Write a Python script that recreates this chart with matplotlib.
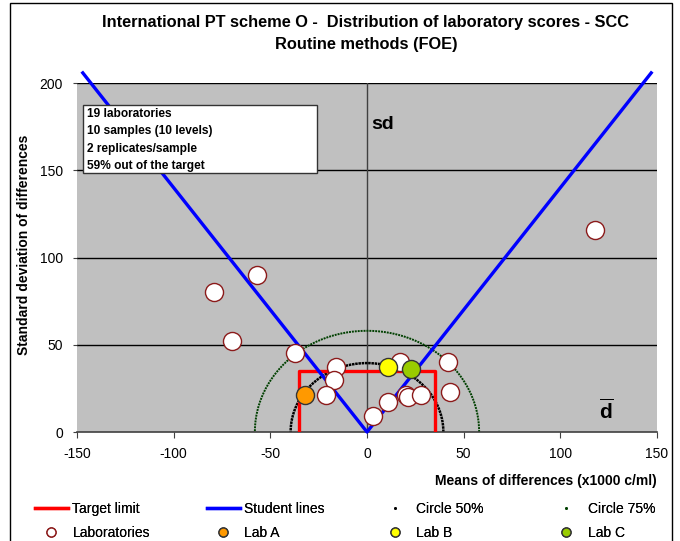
import numpy as np
import matplotlib
matplotlib.use("Agg")
import matplotlib.pyplot as plt
from matplotlib.lines import Line2D
from matplotlib.patches import Rectangle

plt.rcParams['font.family'] = ['Liberation Sans', 'DejaVu Sans']
plt.rcParams['axes.unicode_minus'] = False
plt.rcParams['mathtext.fontset'] = 'custom'
plt.rcParams['mathtext.bf'] = 'Liberation Sans:bold'
plt.rcParams['mathtext.rm'] = 'Liberation Sans'

# ---- data ----
lab_x = [118, -79, -57, -70, -37, -16, -17, -21, 3, 11, 17, 20, 21, 28, 42, 43]
lab_y = [116, 80, 90, 52, 45, 37, 30, 21, 9, 17, 40, 21, 20, 21, 40, 23]
labA = (-32, 21)
labB = (11, 37)
labC = (23, 36)
target_limit = 35
student_slope = 1.4
student_xmax = 147
circle50_r = 39.5
circle75_r = 58
xticks = [-150, -100, -50, 0, 50, 100, 150]
yticks = [0, 50, 100, 150, 200]
info_lines = ["19 laboratories", "10 samples (10 levels)", "2 replicates/sample", "59% out of the target"]

fig = plt.figure(figsize=(6.8, 5.41), dpi=100)
ax = fig.add_axes([77/680, 1 - 432/541, 580/680, 349/541])
ax.set_facecolor('#C0C0C0')
ax.set_xlim(-150, 150)
ax.set_ylim(0, 200)

# gridlines
for yv in yticks[1:]:
    ax.axhline(yv, color='black', lw=1.0, zorder=1)
ax.axvline(0, color='#404040', lw=1.0, zorder=1)

# circles
t = np.linspace(0, np.pi, 200)
ax.plot(circle50_r*np.cos(t), circle50_r*np.sin(t), color='black', lw=1.8, ls=(0, (1, 0.3)), zorder=2)
ax.plot(circle75_r*np.cos(t), circle75_r*np.sin(t), color='#004000', lw=1.4, ls=(0, (1, 0.5)), zorder=2)

# target rectangle
ax.plot([-target_limit, -target_limit, target_limit, target_limit],
        [0, target_limit, target_limit, 0], color='red', lw=2.4, zorder=3)

# student lines
ax.plot([-student_xmax, 0, student_xmax],
        [student_slope*student_xmax, 0, student_slope*student_xmax],
        color='blue', lw=2.4, zorder=3, clip_on=False)

# points
ax.plot(lab_x, lab_y, 'o', ms=13, mfc='white', mec='#8B1A1A', mew=1.0, zorder=4)
ax.plot([labA[0]], [labA[1]], 'o', ms=13, mfc='#FF9900', mec='#333333', mew=1.0, zorder=5)
ax.plot([labB[0]], [labB[1]], 'o', ms=13, mfc='#FFFF00', mec='#333333', mew=1.0, zorder=5)
ax.plot([labC[0]], [labC[1]], 'o', ms=13, mfc='#99CC00', mec='#333333', mew=1.0, zorder=5)

# axes styling
for s in ['top', 'right', 'left']:
    ax.spines[s].set_visible(False)
ax.spines['bottom'].set_color('#404040')
ax.spines['bottom'].set_linewidth(1.2)
ax.set_xticks(xticks)
ax.set_yticks(yticks)
ax.tick_params(axis='x', direction='out', length=4, labelsize=10, pad=7, color='#404040')
ax.tick_params(axis='y', direction='out', length=3, labelsize=10, pad=7, color='#404040')

ax.set_xlabel('Means of differences (x1000 c/ml)', fontsize=10, fontweight='bold')
ax.xaxis.set_label_coords(1.0, -0.12)
ax.xaxis.label.set_horizontalalignment('right')
ax.set_ylabel('Standard deviation of differences', fontsize=10, fontweight='bold')
ax.yaxis.set_label_coords(-0.08, (432-245)/349)

# annotations
ax.text(2, 176, 'sd', fontsize=14, fontweight='bold', ha='left', va='center')
ax.text(124, 12, r'$\overline{\mathbf{d}}$', fontsize=15, ha='center', va='center')

# info box
ax.add_patch(Rectangle((6/580, (432-173)/349), 234/580, 68/349, transform=ax.transAxes,
                       facecolor='white', edgecolor='#333333', lw=1.0, zorder=6))
for i, line in enumerate(info_lines):
    ax.text(10/580, (432-114-i*17.3)/349, line, transform=ax.transAxes, fontsize=8.6,
            fontweight='bold', ha='left', va='center', zorder=7)

# title
fig.text(366/680, 1 - 22/541, 'International PT scheme O -  Distribution of laboratory scores - SCC',
         ha='center', va='center', fontsize=11.8, fontweight='bold')
fig.text(366/680, 1 - 45/541, 'Routine methods (FOE)', ha='center', va='center',
         fontsize=11.8, fontweight='bold')

# figure frame
fig.add_artist(Rectangle((10/680, -0.1), 662/680, 1.1 - 3/541, transform=fig.transFigure,
                         fill=False, edgecolor='black', lw=1.0))

# legend: one legend per column
columns = [
    [(Line2D([], [], color='red', lw=2.4), 'Target limit'),
     (Line2D([], [], ls='none', marker='o', ms=6.5, mfc='white', mec='#8B1A1A'), 'Laboratories')],
    [(Line2D([], [], color='blue', lw=2.4), 'Student lines'),
     (Line2D([], [], ls='none', marker='o', ms=6.5, mfc='#FF9900', mec='#333333'), 'Lab A')],
    [(Line2D([], [], ls='none', marker='.', ms=2, color='black'), 'Circle 50%'),
     (Line2D([], [], ls='none', marker='o', ms=6.5, mfc='#FFFF00', mec='#333333'), 'Lab B')],
    [(Line2D([], [], ls='none', marker='.', ms=2, color='#004000'), 'Circle 75%'),
     (Line2D([], [], ls='none', marker='o', ms=6.5, mfc='#99CC00', mec='#333333'), 'Lab C')],
]
col_x = [35, 207, 379, 550]
for cx, col in zip(col_x, columns):
    leg = fig.legend([h for h, _ in col], [l for _, l in col], loc='upper left',
                     bbox_to_anchor=(cx/680, 1 - 502/541), frameon=False, fontsize=10,
                     handlelength=2.35, handletextpad=0.35, labelspacing=0.7,
                     borderpad=0.0, borderaxespad=0.0)
    fig.add_artist(leg)

fig.savefig('out.png', dpi=100)
